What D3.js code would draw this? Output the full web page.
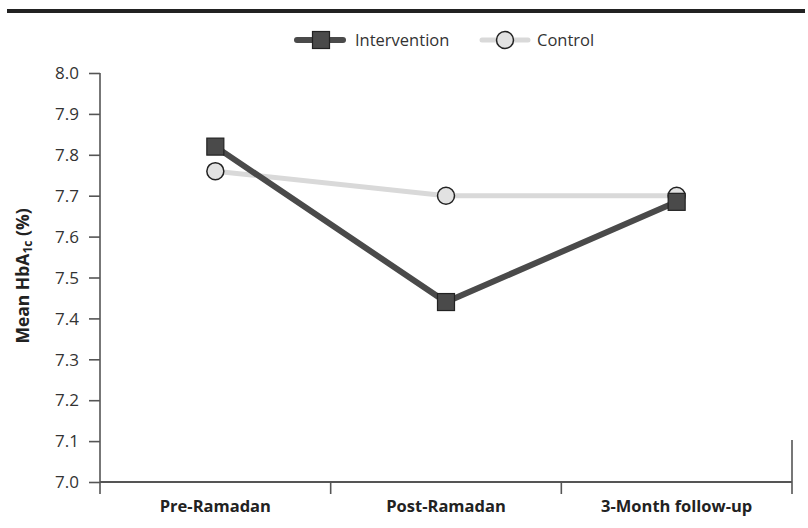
<!DOCTYPE html>
<html><head><meta charset="utf-8">
<script src="https://cdn.jsdelivr.net/npm/d3@7"></script>
<style>body{margin:0;background:#fff}svg{display:block}</style>
</head><body>
<svg id="c" width="808" height="528"></svg>
<script>
const categories = ["Pre-Ramadan", "Post-Ramadan", "3-Month follow-up"];
const intervention = [7.82, 7.44, 7.685];
const control = [7.76, 7.70, 7.70];
const yTicks = [7.0, 7.1, 7.2, 7.3, 7.4, 7.5, 7.6, 7.7, 7.8, 7.9, 8.0];
const seriesNames = ["Intervention", "Control"];

const svg = d3.select("#c");
const font = "'Open Sans', sans-serif";
const axisColor = "#555";

// top rule
svg.append("rect").attr("x", 7).attr("y", 9).attr("width", 798).attr("height", 4).attr("fill", "#222");

const x = d3.scaleBand().domain(categories).range([100, 792]).paddingInner(0).paddingOuter(0);
const y = d3.scaleLinear().domain([7.0, 8.0]).range([482, 73]);

// y axis
const yAxis = svg.append("g").attr("transform", "translate(100,0)")
  .call(d3.axisLeft(y).tickValues(yTicks).tickFormat(d3.format(".1f")).tickSize(11).tickSizeOuter(0));
yAxis.select(".domain").remove();
yAxis.append("line").attr("x1", 0).attr("x2", 0).attr("y1", y(8.0)).attr("y2", 494)
  .attr("stroke", axisColor).attr("stroke-width", 1.6);
yAxis.selectAll(".tick line").attr("stroke", axisColor).attr("stroke-width", 1.6);
yAxis.selectAll(".tick text").attr("x", -21).attr("dy", "0.34em").attr("fill", "#333")
  .style("font-family", font).style("font-size", "17px");

// x axis
const xAxisG = svg.append("g").attr("transform", "translate(0,482)");
xAxisG.append("line").attr("x1", 100).attr("x2", 792).attr("y1", 0).attr("y2", 0)
  .attr("stroke", axisColor).attr("stroke-width", 2);
const bounds = categories.map(c => x(c)).concat([x(categories[categories.length-1]) + x.bandwidth()]);
xAxisG.selectAll("line.xt").data(bounds.slice(1)).enter().append("line").attr("class", "xt")
  .attr("x1", d => d).attr("x2", d => d).attr("y1", (d, i) => i === bounds.length - 2 ? -42 : 0).attr("y2", 12)
  .attr("stroke", axisColor).attr("stroke-width", 1.6);
xAxisG.selectAll("text.xl").data(categories).enter().append("text").attr("class", "xl")
  .attr("x", d => x(d) + x.bandwidth() / 2).attr("y", 30).attr("text-anchor", "middle")
  .attr("fill", "#222").style("font-family", font).style("font-weight", "700").style("font-size", "16.5px")
  .text(d => d);

// y axis title
const yt = svg.append("text").attr("transform", "translate(29,276) rotate(-90)").attr("text-anchor", "middle")
  .attr("fill", "#222").style("font-family", font).style("font-weight", "700").style("font-size", "17.5px");
yt.append("tspan").text("Mean HbA");
yt.append("tspan").attr("font-size", "12px").attr("dy", 3).text("1c");
yt.append("tspan").attr("dy", -3).text(" (%)");

const cx = d => x(d) + x.bandwidth() / 2;
const line = d3.line().x((d, i) => cx(categories[i])).y(d => y(d));

// control
svg.append("path").datum(control).attr("d", line).attr("fill", "none")
  .attr("stroke", "#d9d9d9").attr("stroke-width", 5);
svg.selectAll("circle.ctl").data(control).enter().append("circle").attr("class", "ctl")
  .attr("cx", (d, i) => cx(categories[i])).attr("cy", d => y(d)).attr("r", 8.5)
  .attr("fill", "#e2e2e2").attr("stroke", "#222").attr("stroke-width", 1.5);

// intervention
svg.append("path").datum(intervention).attr("d", line).attr("fill", "none")
  .attr("stroke", "#4a4a4a").attr("stroke-width", 6);
const sq = 17;
svg.selectAll("rect.int").data(intervention).enter().append("rect").attr("class", "int")
  .attr("x", (d, i) => cx(categories[i]) - sq / 2).attr("y", d => y(d) - sq / 2)
  .attr("width", sq).attr("height", sq)
  .attr("fill", "#4a4a4a").attr("stroke", "#222").attr("stroke-width", 1.2);

// legend
const lg = svg.append("g");
const lgY = 40;
lg.append("line").attr("x1", 297).attr("x2", 343).attr("y1", lgY).attr("y2", lgY)
  .attr("stroke", "#4a4a4a").attr("stroke-width", 6).attr("stroke-linecap", "round");
lg.append("rect").attr("x", 320 - sq / 2 + 1).attr("y", lgY - sq / 2).attr("width", sq).attr("height", sq)
  .attr("fill", "#4a4a4a").attr("stroke", "#222").attr("stroke-width", 1.2);
lg.append("text").attr("x", 355).attr("y", lgY + 6).attr("fill", "#333")
  .style("font-family", font).style("font-size", "16.5px").text(seriesNames[0]);
lg.append("line").attr("x1", 482).attr("x2", 528).attr("y1", lgY).attr("y2", lgY)
  .attr("stroke", "#d9d9d9").attr("stroke-width", 5).attr("stroke-linecap", "round");
lg.append("circle").attr("cx", 505).attr("cy", lgY).attr("r", 8.5)
  .attr("fill", "#e2e2e2").attr("stroke", "#222").attr("stroke-width", 1.5);
lg.append("text").attr("x", 537).attr("y", lgY + 6).attr("fill", "#333")
  .style("font-family", font).style("font-size", "16.5px").text(seriesNames[1]);
</script>
</body></html>
